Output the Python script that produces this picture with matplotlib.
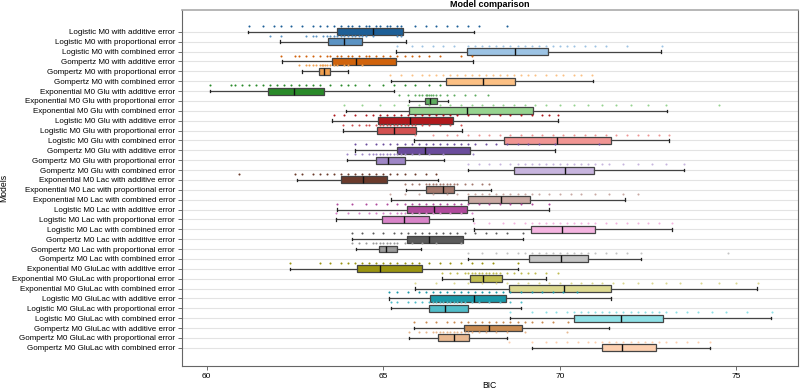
import matplotlib
matplotlib.use("Agg")
import matplotlib.pyplot as plt

plt.rcParams['font.family'] = ['Liberation Sans', 'DejaVu Sans']

models = [
    "Logistic M0 with additive error",
    "Logistic M0 with proportional error",
    "Logistic M0 with combined error",
    "Gompertz M0 with additive error",
    "Gompertz M0 with proportional error",
    "Gompertz M0 with combined error",
    "Exponential M0 Glu with additive error",
    "Exponential M0 Glu with proportional error",
    "Exponential M0 Glu with combined error",
    "Logistic M0 Glu with additive error",
    "Logistic M0 Glu with proportional error",
    "Logistic M0 Glu with combined error",
    "Gompertz M0 Glu with additive error",
    "Gompertz M0 Glu with proportional error",
    "Gompertz M0 Glu with combined error",
    "Exponential M0 Lac with additive error",
    "Exponential M0 Lac with proportional error",
    "Exponential M0 Lac with combined error",
    "Logistic M0 Lac with additive error",
    "Logistic M0 Lac with proportional error",
    "Logistic M0 Lac with combined error",
    "Gompertz M0 Lac with additive error",
    "Gompertz M0 Lac with proportional error",
    "Gompertz M0 Lac with combined error",
    "Exponential M0 GluLac with additive error",
    "Exponential M0 GluLac with proportional error",
    "Exponential M0 GluLac with combined error",
    "Logistic M0 GluLac with additive error",
    "Logistic M0 GluLac with proportional error",
    "Logistic M0 GluLac with combined error",
    "Gompertz M0 GluLac with additive error",
    "Gompertz M0 GluLac with proportional error",
    "Gompertz M0 GluLac with combined error",
]

# box statistics: whisker low, Q1, median, Q3, whisker high
whislo = [61.16, 62.07, 65.36, 62.14, 62.71, 65.22, 60.09, 65.73, 63.94, 63.56, 63.87,
          65.86, 64.20, 63.96, 67.39, 62.55, 65.63, 65.22, 63.70, 63.65, 67.56, 64.12,
          64.22, 67.41, 62.36, 66.65, 65.90, 65.16, 65.22, 68.60, 65.88, 65.73, 69.22]
q1 = [63.68, 63.44, 67.36, 63.56, 63.18, 66.77, 61.74, 66.19, 65.73, 64.86, 64.82,
      68.41, 65.40, 64.79, 68.71, 63.79, 66.21, 67.39, 65.66, 64.95, 69.18, 65.68,
      64.89, 69.13, 64.25, 67.45, 68.56, 66.32, 66.30, 70.40, 67.29, 66.54, 71.20]
median = [64.72, 63.89, 68.73, 64.22, 63.32, 67.81, 62.48, 66.32, 67.36, 65.76, 65.29,
          69.93, 66.18, 65.14, 70.14, 64.43, 66.68, 68.33, 66.44, 65.58, 70.07, 66.30,
          65.09, 70.03, 64.91, 67.83, 70.12, 67.57, 66.75, 71.72, 68.00, 67.00, 71.75]
q3 = [65.56, 64.40, 69.67, 65.35, 63.50, 68.73, 63.31, 66.51, 69.24, 66.98, 65.92,
      71.44, 67.46, 65.62, 70.97, 65.11, 67.01, 69.15, 67.36, 66.30, 70.99, 67.25,
      65.38, 70.80, 66.09, 68.35, 71.44, 68.47, 67.40, 72.92, 68.94, 67.43, 72.72]
whishi = [67.57, 65.64, 72.86, 67.53, 63.99, 70.93, 65.30, 66.84, 73.02, 69.96, 67.22,
          73.10, 69.85, 66.73, 73.52, 66.54, 68.04, 71.84, 69.69, 67.53, 73.16, 68.96,
          66.07, 72.31, 68.80, 69.62, 75.57, 71.46, 68.90, 75.99, 71.40, 68.51, 74.25]

# individual BIC values (strip points)
points = [
    [61.2, 61.6, 61.9, 62.1, 62.4, 62.7, 63.0, 63.2, 63.4, 63.6, 63.8, 64.0, 64.1, 64.3, 64.5, 64.6,
     64.8, 64.9, 65.1, 65.2, 65.4, 65.5, 65.9, 66.2, 66.5, 66.8, 67.1, 67.4, 67.7, 68.5],
    [61.8, 62.1, 62.8, 63.0, 63.1, 63.3, 63.4, 63.5, 63.6, 63.7, 63.8, 63.9, 64.0, 64.1, 64.2, 64.3,
     64.4, 64.5, 64.7, 65.4, 65.5],
    [65.4, 65.8, 66.1, 66.4, 66.7, 67.0, 67.4, 67.6, 67.8, 68.0, 68.2, 68.4, 68.6, 68.8, 69.0, 69.2,
     69.4, 69.6, 69.8, 70.0, 70.2, 70.4, 70.7, 71.0, 71.3, 71.9, 72.9],
    [62.1, 62.5, 62.6, 62.8, 63.0, 63.2, 63.4, 63.5, 63.7, 63.8, 64.0, 64.1, 64.3, 64.5, 64.6, 64.8,
     65.0, 65.2, 65.4, 65.6, 65.8, 66.0, 66.3, 66.6, 67.2, 67.5],
    [62.6, 62.8, 62.9, 63.0, 63.1, 63.2, 63.25, 63.3, 63.35, 63.4, 63.5, 63.6, 63.7, 63.9, 64.0, 64.4],
    [65.2, 65.5, 65.8, 66.1, 66.3, 66.5, 66.7, 66.9, 67.1, 67.3, 67.5, 67.7, 67.9, 68.1, 68.3, 68.5,
     68.7, 68.9, 69.1, 69.3, 69.6, 69.9, 70.1, 70.4, 70.6, 70.9],
    [60.1, 60.7, 60.8, 61.0, 61.2, 61.4, 61.6, 61.8, 62.0, 62.2, 62.4, 62.6, 62.8, 63.0, 63.2, 63.5,
     63.8, 64.0, 64.2, 64.6, 65.0, 65.3, 65.6, 65.9, 66.3, 66.6],
    [65.45, 65.7, 65.9, 66.0, 66.1, 66.2, 66.25, 66.3, 66.35, 66.4, 66.5, 66.6, 66.8, 67.0, 67.3,
     67.6, 67.97],
    [63.9, 64.4, 64.9, 65.3, 65.7, 66.0, 66.3, 66.6, 66.9, 67.2, 67.5, 67.8, 68.1, 68.4, 68.7, 69.0,
     69.3, 69.6, 70.0, 70.4, 70.8, 71.2, 71.6, 72.0, 72.5, 73.0, 74.5],
    [63.6, 63.9, 64.2, 64.5, 64.7, 64.9, 65.1, 65.3, 65.5, 65.7, 65.9, 66.1, 66.3, 66.5, 66.7, 66.9,
     67.1, 67.4, 67.7, 68.0, 68.3, 68.6, 68.9, 69.2, 69.5, 69.7, 69.96],
    [63.87, 64.1, 64.3, 64.5, 64.6, 64.8, 64.9, 65.0, 65.1, 65.2, 65.3, 65.4, 65.5, 65.6, 65.7, 65.8,
     65.9, 66.1, 66.3, 66.6, 66.9, 67.2],
    [65.9, 66.4, 66.8, 67.1, 67.4, 67.7, 68.0, 68.3, 68.6, 68.9, 69.2, 69.5, 69.8, 70.1, 70.4, 70.7,
     71.0, 71.3, 71.6, 71.9, 72.2, 72.5, 72.8, 73.1],
    [64.2, 64.5, 64.8, 65.0, 65.2, 65.4, 65.6, 65.8, 66.0, 66.2, 66.4, 66.6, 66.8, 67.0, 67.2, 67.4,
     67.6, 67.9, 68.2, 68.5, 68.8, 69.1, 69.4, 69.85, 71.1],
    [63.96, 64.2, 64.4, 64.6, 64.7, 64.8, 64.9, 65.0, 65.1, 65.2, 65.3, 65.4, 65.5, 65.6, 65.8, 66.0,
     66.3, 66.7, 67.55],
    [67.4, 67.7, 68.0, 68.3, 68.6, 68.8, 69.0, 69.2, 69.4, 69.6, 69.8, 70.0, 70.2, 70.4, 70.6, 70.8,
     71.0, 71.2, 71.4, 71.8, 72.2, 72.6, 73.0, 73.5],
    [60.9, 62.5, 62.7, 63.0, 63.2, 63.4, 63.6, 63.8, 64.0, 64.2, 64.4, 64.6, 64.8, 65.0, 65.2, 65.4,
     65.6, 65.9, 66.2, 66.5],
    [65.6, 65.8, 66.0, 66.2, 66.3, 66.4, 66.5, 66.6, 66.7, 66.8, 66.9, 67.0, 67.1, 67.3, 67.5, 67.8,
     68.0],
    [65.2, 65.6, 66.0, 66.4, 66.8, 67.1, 67.4, 67.6, 67.8, 68.0, 68.2, 68.4, 68.6, 68.8, 69.0, 69.2,
     69.4, 69.7, 70.0, 70.3, 70.6, 71.0, 71.4, 71.8, 72.2],
    [63.7, 64.1, 64.5, 64.8, 65.1, 65.4, 65.6, 65.8, 66.0, 66.2, 66.4, 66.6, 66.8, 67.0, 67.2, 67.4,
     67.7, 68.0, 68.3, 68.6, 68.9, 69.2, 69.7],
    [63.65, 64.0, 64.3, 64.6, 64.8, 65.0, 65.2, 65.4, 65.5, 65.6, 65.8, 66.0, 66.2, 66.4, 66.6, 66.9,
     67.2, 67.5],
    [67.56, 68.0, 68.4, 68.7, 69.0, 69.2, 69.4, 69.6, 69.8, 70.0, 70.2, 70.4, 70.6, 70.8, 71.0, 71.3,
     71.6, 71.9, 72.2, 72.5, 72.8, 73.16],
    [64.1, 64.4, 64.7, 65.0, 65.3, 65.5, 65.7, 65.9, 66.1, 66.3, 66.5, 66.7, 66.9, 67.1, 67.3, 67.6,
     67.9, 68.2, 68.5, 68.96],
    [64.1, 64.3, 64.5, 64.7, 64.8, 64.9, 65.0, 65.1, 65.2, 65.3, 65.4, 65.6, 65.8, 66.1, 66.5, 67.2],
    [67.4, 67.8, 68.2, 68.5, 68.8, 69.0, 69.2, 69.4, 69.6, 69.8, 70.0, 70.2, 70.4, 70.6, 70.8, 71.0,
     71.3, 71.6, 71.9, 72.3, 74.75],
    [62.36, 63.2, 63.5, 63.8, 64.0, 64.2, 64.4, 64.6, 64.8, 65.0, 65.2, 65.4, 65.6, 65.8, 66.0, 66.3,
     66.6, 66.9, 67.2, 67.5, 67.8, 68.1, 68.8],
    [66.65, 66.9, 67.1, 67.3, 67.4, 67.5, 67.6, 67.7, 67.8, 67.9, 68.0, 68.1, 68.2, 68.3, 68.5, 68.7,
     68.9, 69.1, 69.3, 69.6, 69.95],
    [65.9, 66.5, 67.0, 67.4, 67.8, 68.2, 68.5, 68.8, 69.1, 69.4, 69.7, 70.0, 70.3, 70.6, 70.9, 71.2,
     71.5, 71.8, 72.2, 72.6, 73.0, 73.4, 74.0, 74.5, 75.0, 75.6],
    [65.16, 65.4, 65.7, 66.0, 66.2, 66.4, 66.6, 66.8, 67.0, 67.2, 67.4, 67.6, 67.8, 68.0, 68.2, 68.4,
     68.6, 68.9, 69.2, 69.5, 69.8, 70.1, 70.47],
    [65.22, 65.4, 65.7, 65.9, 66.1, 66.3, 66.4, 66.5, 66.6, 66.7, 66.8, 66.9, 67.0, 67.1, 67.2, 67.3,
     67.5, 67.7, 68.0, 68.3, 68.6, 68.9],
    [68.6, 69.2, 69.6, 69.9, 70.2, 70.4, 70.6, 70.8, 71.0, 71.2, 71.4, 71.6, 71.8, 72.0, 72.2, 72.4,
     72.6, 72.8, 73.0, 73.3, 73.6, 73.9, 74.3, 74.7, 75.3, 76.0],
    [65.88, 66.2, 66.5, 66.8, 67.0, 67.2, 67.4, 67.6, 67.8, 68.0, 68.2, 68.4, 68.6, 68.8, 69.0, 69.2,
     69.5, 69.8, 70.23],
    [65.73, 66.0, 66.2, 66.4, 66.5, 66.6, 66.7, 66.8, 66.9, 67.0, 67.1, 67.2, 67.3, 67.4, 67.5, 67.7,
     67.9, 68.2, 68.5, 69.0, 70.2],
    [68.56, 69.2, 69.6, 69.9, 70.2, 70.5, 70.8, 71.0, 71.2, 71.4, 71.6, 71.8, 72.0, 72.2, 72.4, 72.6,
     72.8, 73.0, 73.3, 73.6, 73.9, 74.25],
]

colors = [
    "#1d5f97", "#5b93c3", "#9cc3e4",
    "#d0630c", "#f0a050", "#fcc084",
    "#2a8a2a", "#5eab5e", "#96d38f",
    "#b0181c", "#d25050", "#f09593",
    "#6a4c9c", "#9e86c6", "#c7b4de",
    "#6b3b2c", "#a3786c", "#c9a9a3",
    "#b04a9c", "#d884c8", "#f4b4e0",
    "#5a5a5a", "#9a9a9a", "#c4c4c4",
    "#9a9410", "#c0bc50", "#dcd890",
    "#1a98a8", "#50bcc8", "#8ee0e6",
    "#c88a50", "#e8b890", "#fdd0b0",
]

fig = plt.figure(figsize=(8, 3.9), dpi=100)
ax = fig.add_axes([0.2275, 0.0615, 0.7695, 0.9125])

n = len(models)
positions = list(range(n))
stats = []
for i in range(n):
    stats.append(dict(whislo=whislo[i], q1=q1[i], med=median[i], q3=q3[i],
                      whishi=whishi[i], fliers=[], label=models[i]))

bp = ax.bxp(stats, positions=positions, vert=False, widths=0.7, patch_artist=True,
            showfliers=False, capwidths=0.25,
            boxprops=dict(edgecolor="#444444", linewidth=0.9),
            whiskerprops=dict(color="#444444", linewidth=0.9),
            capprops=dict(color="#222222", linewidth=0.9),
            medianprops=dict(color="#111111", linewidth=1.0))
for patch, c in zip(bp['boxes'], colors):
    patch.set_facecolor(c)

for i in range(n):
    ax.scatter(points[i], [i - 0.6] * len(points[i]), s=2.2, color=colors[i],
               linewidths=0, zorder=3)

ax.set_ylim(n - 1 + 1.85, -2.2)
ax.set_xlim(59.3, 76.73)
ax.set_yticks(positions)
ax.set_yticklabels(models, fontsize=5.75)
ax.set_xticks([60, 65, 70, 75])
ax.tick_params(axis='x', labelsize=6, length=3, width=0.6, color="#555555", pad=2)
ax.tick_params(axis='y', length=3, width=0.6, color="#555555", pad=2)

ax.yaxis.grid(True, color="#e3e3e3", linewidth=0.8)
ax.set_axisbelow(True)

for s in ['left', 'bottom', 'right']:
    ax.spines[s].set_color("#666666")
    ax.spines[s].set_linewidth(0.8)
ax.spines['top'].set_color("#aaaaaa")
ax.spines['top'].set_linewidth(1.2)

ax.set_title("Model comparison", fontsize=6.5, fontweight='bold', pad=2)
ax.set_xlabel("BIC", fontsize=6.2, labelpad=0.5)
ax.set_ylabel("Models", fontsize=6.2)
ax.yaxis.set_label_coords(-0.282, 0.5)

fig.savefig("out.png", dpi=100)
